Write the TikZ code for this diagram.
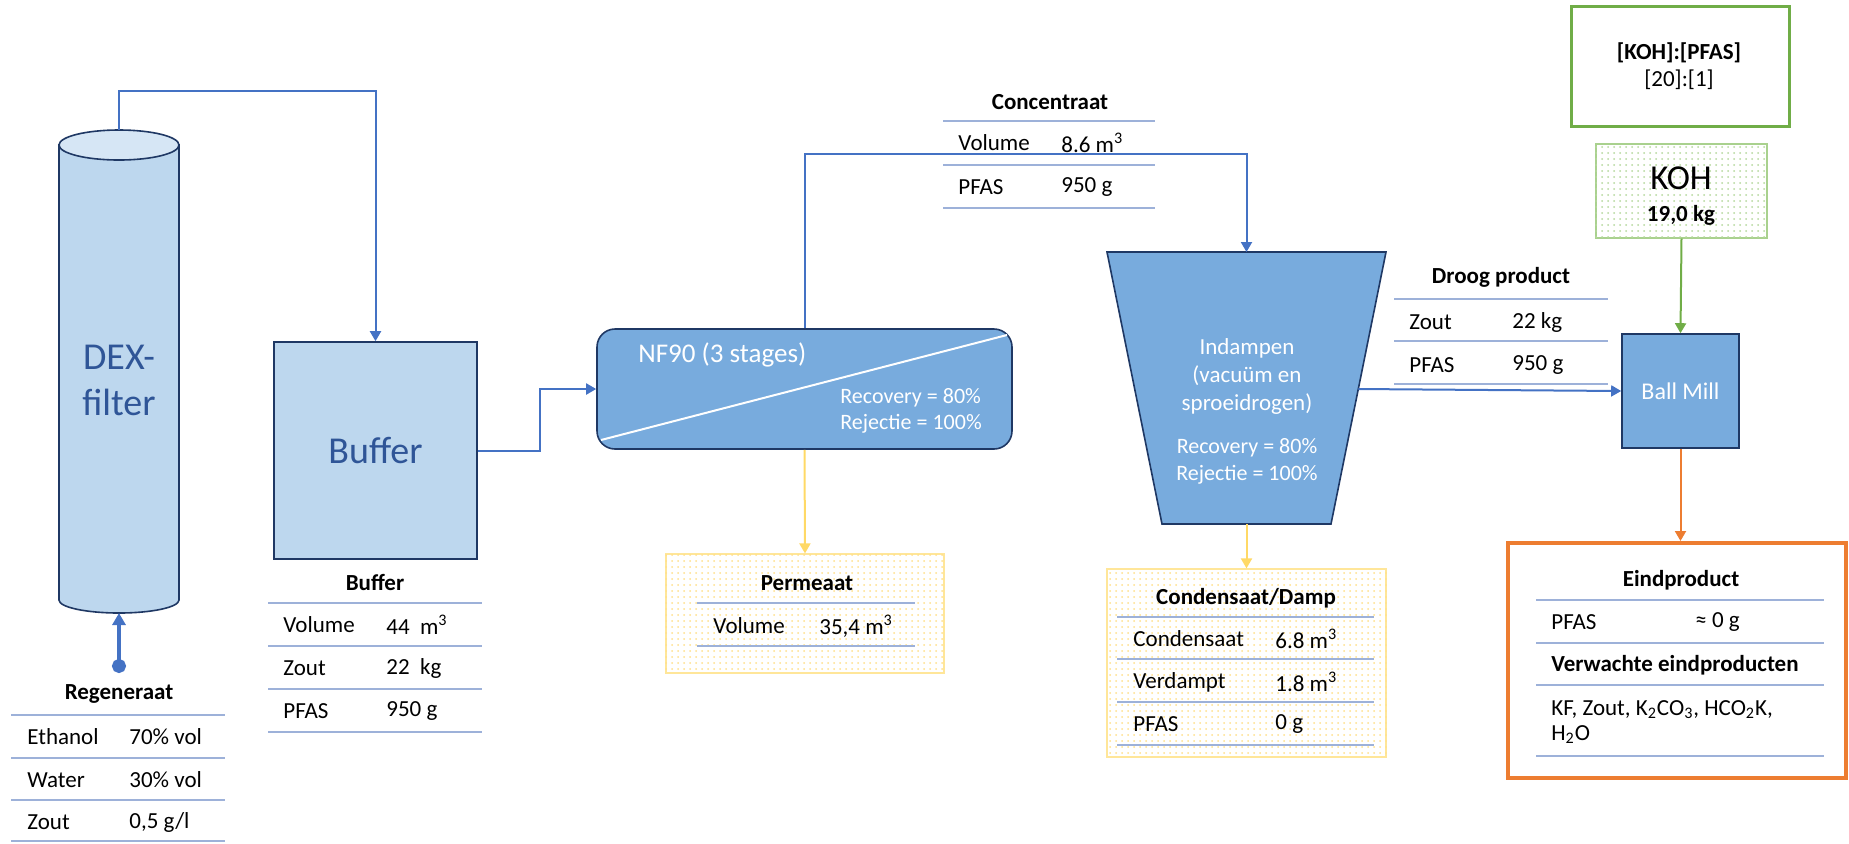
\documentclass[tikz,border=0pt]{standalone}
\usepackage{fontspec}
\setmainfont{Carlito}
\usetikzlibrary{arrows.meta,patterns,calc}
\pgfdeclarepatternformonly{finedots}{\pgfqpoint{-0.6pt}{-0.6pt}}{\pgfqpoint{0.6pt}{0.6pt}}{\pgfqpoint{3pt}{3pt}}%
{\pgfpathcircle{\pgfqpoint{0pt}{0pt}}{0.5pt}\pgfusepath{fill}}
\definecolor{lblue}{HTML}{BDD7EE}
\definecolor{lbluetop}{HTML}{D6E6F5}
\definecolor{mblue}{HTML}{78ABDD}
\definecolor{navy}{HTML}{1F3864}
\definecolor{dtext}{HTML}{2F5597}
\definecolor{ablue}{HTML}{4472C4}
\definecolor{tline}{HTML}{9DB1D9}
\definecolor{yarrow}{HTML}{FFD966}
\definecolor{yborder}{HTML}{FFE699}
\definecolor{ydot}{HTML}{FFE08A}
\definecolor{gdark}{HTML}{70AD47}
\definecolor{glight}{HTML}{A9D18E}
\definecolor{gdot}{HTML}{B5D89C}
\definecolor{orng}{HTML}{ED7D31}
\tikzset{
  flow/.style={draw=ablue, line width=1pt, -{Triangle[length=5pt,width=5.5pt]}},
  yflow/.style={draw=yarrow, line width=1pt, -{Triangle[length=5pt,width=5.5pt]}},
  gflow/.style={draw=gdark, line width=1pt, -{Triangle[length=5pt,width=5.5pt]}},
  oflow/.style={draw=orng, line width=1pt, -{Triangle[length=5pt,width=5.5pt]}},
  tab/.style={font=\fontsize{11.5}{13.8}\selectfont, inner sep=0pt, text=black},
  tabh/.style={font=\fontsize{11.5}{13.8}\selectfont\bfseries, inner sep=0pt, text=black},
  trule/.style={draw=tline, line width=0.6pt},
  lightbox/.style={draw=navy, fill=lblue, line width=0.8pt},
  midbox/.style={draw=navy, fill=mblue, line width=0.8pt},
  wtext/.style={text=white, inner sep=0pt},
}
\begin{document}
\begin{tikzpicture}[x=0.5pt,y=-0.5pt]
\useasboundingbox (0,0) rectangle (1849,843);

% ---------- DEX filter cylinder ----------
\draw[lightbox] (59,145) -- (59,600)
  arc[start angle=180,end angle=360,x radius=30pt,y radius=6.5pt]
  -- (179,145) -- cycle;
\draw[draw=navy, fill=lbluetop, line width=0.8pt] (119,145) ellipse [x radius=30pt, y radius=7.5pt];
\coordinate (dextop) at (119,130);
\coordinate (dexbot) at (119,613);
\node[text=dtext, font=\fontsize{19}{23}\selectfont, align=center] (dex) at (119,380) {DEX-\\filter};

% ---------- Regeneraat ----------
\coordinate (regen) at (119,673);
\draw[ablue, line width=2pt, {Circle[length=7pt]}-{Triangle[length=6pt,width=6.5pt]}] (regen) -- (dexbot);
\node[tabh] (regT) at (119,694) {Regeneraat};
\foreach \yy in {715,758,800,841} \draw[trule] (11,\yy) -- (225,\yy);
\node[tab, anchor=west] (r1a) at (27,737) {Ethanol};
\node[tab, anchor=west] (r1b) at (129,737) {70\% vol};
\node[tab, anchor=west] (r2a) at (27,780) {Water};
\node[tab, anchor=west] (r2b) at (129,780) {30\% vol};
\node[tab, anchor=west] (r3a) at (27,822) {Zout};
\node[tab, anchor=west] (r3b) at (129,822) {0,5 g/l};

% ---------- Buffer ----------
\node[lightbox, minimum width=101.5pt, minimum height=108.5pt, text=dtext, font=\fontsize{19}{23}\selectfont] (buffer) at (375.5,450.5) {Buffer};
\draw[flow] (dextop) -- ++(0,-39) -| (buffer.north);
\node[tabh] (bufT) at (375,582) {Buffer};
\foreach \yy in {603,646,689,732} \draw[trule] (268,\yy) -- (482,\yy);
\node[tab, anchor=west] (b1a) at (283,625) {Volume};
\node[tab, anchor=west] (b1b) at (386,625) {44\ \ m\textsuperscript{3}};
\node[tab, anchor=west] (b2a) at (283,668) {Zout};
\node[tab, anchor=west] (b2b) at (386,668) {22\ \ kg};
\node[tab, anchor=west] (b3a) at (283,711) {PFAS};
\node[tab, anchor=west] (b3b) at (386,711) {950 g};

% ---------- NF90 ----------
\node[midbox, rounded corners=9pt, minimum width=207.5pt, minimum height=60pt] (nf) at (804.5,389) {};
\draw[white, line width=1pt] (601,440) -- (1007,335);
\node[wtext, anchor=west, font=\fontsize{13.5}{16}\selectfont] (nfT) at (638,355) {NF90 (3 stages)};
\node[wtext, anchor=west, align=left, font=\fontsize{11}{13}\selectfont] (nfR) at (840,411) {Recovery = 80\%\\Rejectie = 100\%};
\draw[flow] (buffer.east) -- ++(62,0) |- (nf.west);

% ---------- Concentraat ----------
\node[tabh] (conT) at (1050,102) {Concentraat};
\foreach \yy in {121,165,208} \draw[trule] (943,\yy) -- (1155,\yy);
\node[tab, anchor=west] (c1a) at (958,143) {Volume};
\node[tab, anchor=west] (c1b) at (1061,143) {8.6 m\textsuperscript{3}};
\node[tab, anchor=west] (c2a) at (958,187) {PFAS};
\node[tab, anchor=west] (c2b) at (1061,187) {950 g};

% ---------- Indampen (trapezoid) ----------
\draw[midbox] (1107,252) -- (1386,252) -- (1331,524) -- (1162,524) -- cycle;
\coordinate (trapTop) at (1246.5,252);
\coordinate (trapBot) at (1246.5,524);
\coordinate (trapR) at (1358.3,389);
\node[wtext, align=center, font=\fontsize{11.5}{14}\selectfont] (indT) at (1247,376) {Indampen\\(vacuüm en\\sproeidrogen)};
\node[wtext, align=center, font=\fontsize{11}{13.5}\selectfont] (indR) at (1247,461.5) {Recovery = 80\%\\Rejectie = 100\%};
\draw[flow] (nf.north) -- ++(0,-174) -| (trapTop);

% ---------- Permeaat ----------
\node[draw=yborder, line width=0.6pt, fill=white, minimum width=139pt, minimum height=59.5pt] (perm) at (805,613.5) {};
\fill[pattern=finedots, pattern color=ydot] (perm.south west) rectangle (perm.north east);
\node[tabh] (permT) at (807,583) {Permeaat};
\foreach \yy in {603,646} \draw[trule] (697,\yy) -- (915,\yy);
\node[tab, anchor=west] (p1a) at (713,626) {Volume};
\node[tab, anchor=west] (p1b) at (819,626) {35,4 m\textsuperscript{3}};
\draw[yflow] (nf.south) -- (perm.north);

% ---------- Condensaat/Damp ----------
\node[draw=yborder, line width=0.6pt, fill=white, minimum width=139.5pt, minimum height=94pt] (cond) at (1246.5,663) {};
\fill[pattern=finedots, pattern color=ydot] (cond.south west) rectangle (cond.north east);
\node[tabh] (condT) at (1246,598) {Condensaat/Damp};
\foreach \yy in {617,659,702,745} \draw[trule] (1117,\yy) -- (1374,\yy);
\node[tab, anchor=west] (d1a) at (1133,639) {Condensaat};
\node[tab, anchor=west] (d1b) at (1275,639) {6.8 m\textsuperscript{3}};
\node[tab, anchor=west] (d2a) at (1133,682) {Verdampt};
\node[tab, anchor=west] (d2b) at (1275,682) {1.8 m\textsuperscript{3}};
\node[tab, anchor=west] (d3a) at (1133,724) {PFAS};
\node[tab, anchor=west] (d3b) at (1275,724) {0 g};
\draw[yflow] (trapBot) -- (cond.north);

% ---------- Droog product ----------
\node[tabh] (drT) at (1501,277) {Droog product};
\foreach \yy in {299,341,384} \draw[trule] (1394,\yy) -- (1608,\yy);
\node[tab, anchor=west] (g1a) at (1409,322) {Zout};
\node[tab, anchor=west] (g1b) at (1512,322) {22 kg};
\node[tab, anchor=west] (g2a) at (1409,365) {PFAS};
\node[tab, anchor=west] (g2b) at (1512,365) {950 g};

% ---------- Ball Mill ----------
\node[midbox, minimum width=58.5pt, minimum height=57pt, text=white, font=\fontsize{12}{14}\selectfont] (bm) at (1680.5,391) {Ball Mill};
\draw[flow] (trapR) -- (bm.west);

% ---------- KOH ----------
\node[draw=gdark, line width=1.5pt, minimum width=109pt, minimum height=60pt] (ratio) at (1680,66) {};
\node[tabh] (ratioA) at (1679,53) {[KOH]:[PFAS]};
\node[tab] (ratioB) at (1679,80) {[20]:[1]};
\node[draw=glight, line width=0.6pt, fill=white, minimum width=85.5pt, minimum height=47pt] (koh) at (1681.5,191) {};
\fill[pattern=finedots, pattern color=gdot] (koh.south west) rectangle (koh.north east);
\node[tab, font=\fontsize{17.5}{20}\selectfont] (kohT) at (1681,178) {KOH};
\node[tabh] (kohW) at (1681,215) {19,0 kg};
\draw[gflow] (koh.south) -- (bm.north);

% ---------- Eindproduct ----------
\node[draw=orng, line width=2pt, minimum width=169pt, minimum height=117.5pt] (eind) at (1677,660.5) {};
\draw[oflow] (bm.south) -- (bm.south |- eind.north);
\node[tabh] (eT) at (1681,580) {Eindproduct};
\foreach \yy in {600,643,685,756} \draw[trule] (1536,\yy) -- (1824,\yy);
\node[tab, anchor=west] (e1a) at (1551,622) {PFAS};
\node[tab, anchor=west] (e1b) at (1695,622) {≈ 0 g};
\node[tabh, anchor=west] (e2) at (1551,665) {Verwachte eindproducten};
\node[tab, anchor=west, align=left, font=\fontsize{11.5}{12.5}\selectfont] (e3) at (1551,722) {KF, Zout, K\textsubscript{2}CO\textsubscript{3}, HCO\textsubscript{2}K,\\H\textsubscript{2}O};
\end{tikzpicture}
\end{document}
